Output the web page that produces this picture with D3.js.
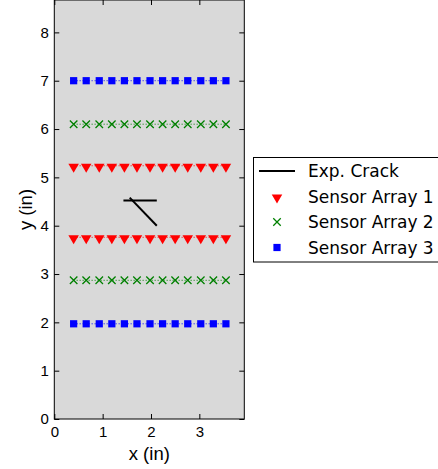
<!DOCTYPE html>
<html><head><meta charset="utf-8">
<script src="https://cdn.jsdelivr.net/npm/d3@7"></script>
<style>body{margin:0;background:#fff}svg{display:block}</style>
</head><body>
<script>
const sensorX = [0.4, 0.66, 0.93, 1.19, 1.45, 1.71, 1.98, 2.24, 2.5, 2.76, 3.03, 3.29, 3.55];
const array1Y = [3.76, 5.24];
const array2Y = [2.87, 6.1];
const array3Y = [1.97, 7.0];
const crackSegments = [
  [[1.43, 4.52], [2.12, 4.52]],
  [[1.56, 4.58], [2.12, 4.0]]
];
const xTicks = [0, 1, 2, 3];
const yTicks = [0, 1, 2, 3, 4, 5, 6, 7, 8];
const legendLabels = ["Exp. Crack", "Sensor Array 1", "Sensor Array 2", "Sensor Array 3"];

const W = 438, H = 469;
const L = 54.3, R = 244.3, T = 0, B = 419;
const svg = d3.select("body").append("svg").attr("width", W).attr("height", H);
const x = d3.scaleLinear().domain([0, 3.93]).range([L, R]);
const y = d3.scaleLinear().domain([0, 8.67]).range([B, T]);

svg.append("rect").attr("x", L).attr("y", T).attr("width", R - L).attr("height", B - T).attr("fill", "#d9d9d9");

const tickFont = "Liberation Sans, Arial, sans-serif";
const fmt = d3.format("d");
const ax = (g, axis) => { g.call(axis); g.select(".domain").remove(); g.selectAll("line").attr("stroke", "#000"); };
svg.append("g").attr("transform", `translate(0,${B})`).call(g => ax(g, d3.axisBottom(x).tickValues(xTicks).tickFormat(fmt).tickSizeInner(-5).tickSizeOuter(0).tickPadding(7)));
svg.append("g").attr("transform", `translate(0,${T})`).call(g => ax(g, d3.axisTop(x).tickValues(xTicks).tickSizeInner(-5).tickSizeOuter(0).tickFormat("")));
svg.append("g").attr("transform", `translate(${L},0)`).call(g => ax(g, d3.axisLeft(y).tickValues(yTicks).tickFormat(fmt).tickSizeInner(-5).tickSizeOuter(0).tickPadding(5.5)));
svg.append("g").attr("transform", `translate(${R},0)`).call(g => ax(g, d3.axisRight(y).tickValues(yTicks).tickSizeInner(-5).tickSizeOuter(0).tickFormat("")));
svg.selectAll(".tick text").attr("font-family", tickFont).attr("font-size", 15).attr("fill", "#000");

const plot = svg.append("g");
const series = [
  {ys: array1Y, color: "#ff0000", sym: d3.symbolTriangle, rot: 180, size: 48},
  {ys: array2Y, color: "#008000", sym: "x", size: 7.5},
  {ys: array3Y, color: "#0000ff", sym: d3.symbolSquare, size: 52}
];
function drawMarker(g, s, cx, cy) {
  if (s.sym === "x") {
    const h = s.size / 2;
    g.append("path").attr("d", `M${cx-h},${cy-h}L${cx+h},${cy+h}M${cx-h},${cy+h}L${cx+h},${cy-h}`)
      .attr("stroke", s.color).attr("stroke-width", 1.3).attr("fill", "none");
  } else {
    g.append("path").attr("d", d3.symbol(s.sym, s.size)())
      .attr("transform", `translate(${cx},${cy}) rotate(${s.rot || 0})`).attr("fill", s.color);
  }
}
series.forEach(s => {
  s.ys.forEach(yv => {
    plot.append("path").attr("d", d3.line()(sensorX.map(xv => [x(xv), y(yv)])))
      .attr("stroke", s.color).attr("stroke-width", 1).attr("stroke-dasharray", "1,2").attr("fill", "none");
    sensorX.forEach(xv => drawMarker(plot, s, x(xv), y(yv) + (s.rot ? 1 : 0)));
  });
});
crackSegments.forEach(seg => {
  plot.append("path").attr("d", d3.line()(seg.map(p => [x(p[0]), y(p[1])])))
    .attr("stroke", "#000").attr("stroke-width", 2).attr("fill", "none");
});

svg.append("rect").attr("x", L).attr("y", T).attr("width", R - L).attr("height", B - T)
  .attr("fill", "none").attr("stroke", "#000").attr("stroke-width", 1);

svg.append("text").attr("x", (L + R) / 2).attr("y", 459.5).attr("text-anchor", "middle")
  .attr("font-family", tickFont).attr("font-size", 18.5).text("x (in)");
svg.append("text").attr("transform", `translate(32,${(T + B) / 2}) rotate(-90)`).attr("text-anchor", "middle")
  .attr("font-family", tickFont).attr("font-size", 18.5).text("y (in)");

const lg = svg.append("g");
lg.append("rect").attr("x", 253.5).attr("y", 157.5).attr("width", 200).attr("height", 104.5)
  .attr("fill", "#fff").attr("stroke", "#000").attr("stroke-width", 1);
const rowY = [171, 196.5, 222, 247.5];
legendLabels.forEach((lab, i) => {
  const cy = rowY[i];
  if (i === 0) {
    lg.append("line").attr("x1", 259).attr("x2", 295).attr("y1", cy).attr("y2", cy).attr("stroke", "#000").attr("stroke-width", 2);
  } else {
    drawMarker(lg, series[i - 1], 277, cy + (series[i - 1].rot ? 1 : 0));
  }
  lg.append("text").attr("x", 308).attr("y", cy).attr("dy", "0.36em")
    .attr("font-family", "DejaVu Sans, sans-serif").attr("font-size", 17).text(lab);
});
</script>
</body></html>
